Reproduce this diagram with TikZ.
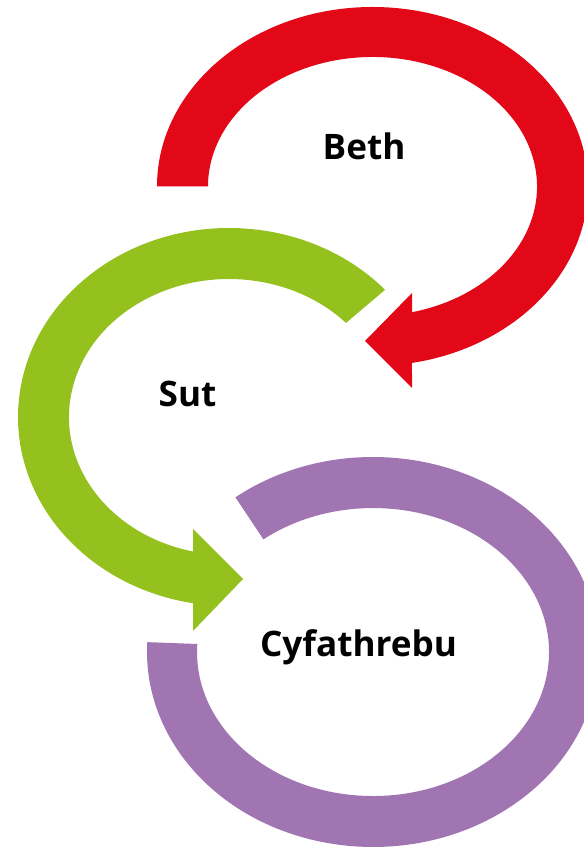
\documentclass[tikz,border=0pt]{standalone}
\usepackage{fontspec}
\setsansfont{Open Sans}
\usepackage{tikz}
\usetikzlibrary{arrows,positioning}

\definecolor{bethred}{RGB}{227,8,23}
\definecolor{sutgreen}{RGB}{149,193,31}
\definecolor{cyfpurple}{RGB}{160,117,178}

\begin{document}
\begin{tikzpicture}[x=0.02cm,y=0.02cm,
		red arrow/.style={fill=bethred},
		green arrow/.style={fill=sutgreen},
		purple ring/.style={fill=cyfpurple},
		label node/.style={font=\sffamily\bfseries\fontsize{20}{24}\selectfont,anchor=base}]
	\useasboundingbox (0,0) rectangle (584,848);
	\coordinate (rc) at (372.5,661.5);
	\coordinate (gc) at (229,431);
	\coordinate (pc) at (373,196);
	%
	% Red loop round Beth, head pointing at Sut.
	\fill[red arrow] (rc) ++(180:215.5 and 179.5)
		arc[start angle=180, end angle=-79.44, x radius=215.5, y radius=179.5]
		-- (412,460) -- (365,507) -- (412,555) -- (412,535.8)
		arc[start angle=-76.1, end angle=180, x radius=164.5, y radius=129.5]
		-- cycle;
	%
	% Green loop round Sut, head pointing at Cyfathrebu.
	\fill[green arrow] (gc) ++(42.3:211 and 189)
		arc[start angle=42.3, end angle=260.2, x radius=211, y radius=189]
		-- (193,217) -- (243,269) -- (193,319) -- (193,296.5)
		arc[start angle=257, end angle=43, x radius=160, y radius=138]
		-- cycle;
	%
	% Purple ring round Cyfathrebu, no head.
	\fill[purple ring] (pc) ++(127.5:226 and 195)
		arc[start angle=127.5, end angle=-182.9, x radius=226, y radius=195]
		-- (197.3,204)
		arc[start angle=-183.2, end angle=128.5, x radius=176, y radius=144]
		-- cycle;
	%
	\node[label node] (beth) at (364,688) {Beth};
	\node[label node] (sut) at (187.5,441) {Sut};
	\node[label node] (cyf) at (358.5,191) {Cyfathrebu};
\end{tikzpicture}
\end{document}
